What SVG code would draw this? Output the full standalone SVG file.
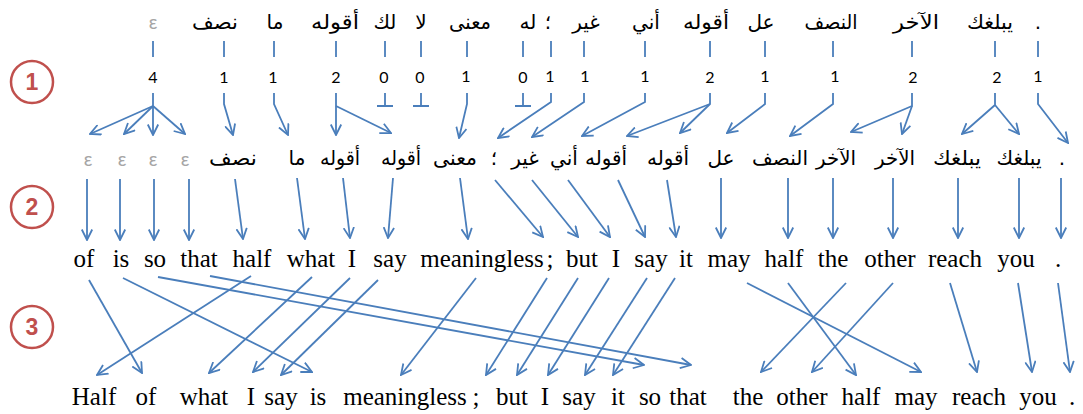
<svg xmlns="http://www.w3.org/2000/svg" width="1083" height="414" viewBox="0 0 1083 414">
<defs>
<marker id="ah" viewBox="0 0 12 12" refX="11" refY="6" markerWidth="12" markerHeight="12" orient="auto" markerUnits="userSpaceOnUse">
<path d="M0.5,0.8 L11,6 L0.5,11.2" fill="none" stroke="#4A7EBB" stroke-width="1.8" stroke-linejoin="miter"/>
</marker>
<style>
.a1{font-family:"DejaVu Sans",sans-serif;font-size:20px;fill:#000;text-anchor:middle}
.a2{font-family:"DejaVu Sans",sans-serif;font-size:20px;fill:#000;text-anchor:middle}
.en{font-family:"Liberation Serif","Times New Roman",serif;font-size:25px;fill:#000;text-anchor:middle}
.num{font-family:Lato,"Liberation Sans",sans-serif;font-size:16px;fill:#000;text-anchor:middle}
.eps{font-family:Lato,"DejaVu Sans",sans-serif;font-size:19px;fill:#A6A6A6;text-anchor:middle}
.ln{stroke:#4A7EBB;stroke-width:1.8;fill:none}
.ar{stroke:#4A7EBB;stroke-width:1.8;fill:none;marker-end:url(#ah)}
.circ{fill:none;stroke:#C0504D;stroke-width:2.5}
.cn{font-family:"Liberation Sans",sans-serif;font-weight:bold;font-size:23px;fill:#C0504D;text-anchor:middle}
</style>
</defs>
<rect width="1083" height="414" fill="#fff"/>

<g id="step-markers">
<g id="step1"><circle class="circ" cx="32" cy="82" r="21"/><text class="cn" x="32" y="90">1</text></g>
<g id="step2"><circle class="circ" cx="32" cy="207" r="21"/><text class="cn" x="32" y="215">2</text></g>
<g id="step3"><circle class="circ" cx="32" cy="327" r="21"/><text class="cn" x="32" y="335">3</text></g>
</g>

<g id="source-row">
<g id="s0"><text class="eps" x="153" y="29">ε</text></g>
<g id="s1"><text class="a1" x="215" y="29" textLength="46" lengthAdjust="spacingAndGlyphs">نصف</text></g>
<g id="s2"><text class="a1" x="275" y="29">ما</text></g>
<g id="s3"><text class="a1" x="335" y="29" textLength="48" lengthAdjust="spacingAndGlyphs">أقوله</text></g>
<g id="s4"><text class="a1" x="385" y="29">لك</text></g>
<g id="s5"><text class="a1" x="421" y="29">لا</text></g>
<g id="s6"><text class="a1" x="470" y="29" textLength="42" lengthAdjust="spacingAndGlyphs">معنى</text></g>
<g id="s7"><text class="a1" x="528" y="29">له</text></g>
<g id="s8"><text class="a1" x="548" y="29">؛</text></g>
<g id="s9"><text class="a1" x="586" y="29">غير</text></g>
<g id="s10"><text class="a1" x="646" y="29">أني</text></g>
<g id="s11"><text class="a1" x="706" y="29" textLength="46" lengthAdjust="spacingAndGlyphs">أقوله</text></g>
<g id="s12"><text class="a1" x="761" y="29">عل</text></g>
<g id="s13"><text class="a1" x="831" y="29" textLength="53" lengthAdjust="spacingAndGlyphs">النصف</text></g>
<g id="s14"><text class="a1" x="916" y="29" textLength="46" lengthAdjust="spacingAndGlyphs">الآخر</text></g>
<g id="s15"><text class="a1" x="990" y="29" textLength="46" lengthAdjust="spacingAndGlyphs">يبلغك</text></g>
<g id="s16"><text class="a1" x="1038" y="29">.</text></g>
</g>

<g id="fertility">
<text class="num" x="153" y="83">4</text>
<text class="num" x="224" y="83">1</text>
<text class="num" x="273" y="83">1</text>
<text class="num" x="336" y="83">2</text>
<text class="num" x="384" y="83">0</text>
<text class="num" x="420" y="83">0</text>
<text class="num" x="466" y="82">1</text>
<text class="num" x="523" y="83">0</text>
<text class="num" x="550" y="82">1</text>
<text class="num" x="585" y="82">1</text>
<text class="num" x="645" y="82">1</text>
<text class="num" x="710" y="83">2</text>
<text class="num" x="765" y="82">1</text>
<text class="num" x="835" y="82">1</text>
<text class="num" x="913" y="83">2</text>
<text class="num" x="997" y="83">2</text>
<text class="num" x="1038" y="82">1</text>
</g>

<g id="middle-row">
<g id="m0"><text class="eps" x="88" y="166">ε</text></g>
<g id="m1"><text class="eps" x="122" y="166">ε</text></g>
<g id="m2"><text class="eps" x="153" y="166">ε</text></g>
<g id="m3"><text class="eps" x="185" y="166">ε</text></g>
<g id="m4"><text class="a2" x="233" y="165" textLength="48" lengthAdjust="spacingAndGlyphs">نصف</text></g>
<g id="m5"><text class="a2" x="297" y="165">ما</text></g>
<g id="m6"><text class="a2" x="340" y="165" textLength="40" lengthAdjust="spacingAndGlyphs">أقوله</text></g>
<g id="m7"><text class="a2" x="401" y="165" textLength="40" lengthAdjust="spacingAndGlyphs">أقوله</text></g>
<g id="m8"><text class="a2" x="455" y="165" textLength="44" lengthAdjust="spacingAndGlyphs">معنى</text></g>
<g id="m9"><text class="a2" x="494" y="165">؛</text></g>
<g id="m10"><text class="a2" x="525" y="165">غير</text></g>
<g id="m11"><text class="a2" x="564" y="165">أني</text></g>
<g id="m12"><text class="a2" x="606" y="165" textLength="42" lengthAdjust="spacingAndGlyphs">أقوله</text></g>
<g id="m13"><text class="a2" x="668" y="165" textLength="42" lengthAdjust="spacingAndGlyphs">أقوله</text></g>
<g id="m14"><text class="a2" x="721" y="165">عل</text></g>
<g id="m15"><text class="a2" x="780" y="165" textLength="56" lengthAdjust="spacingAndGlyphs">النصف</text></g>
<g id="m16"><text class="a2" x="836" y="165" textLength="40" lengthAdjust="spacingAndGlyphs">الآخر</text></g>
<g id="m17"><text class="a2" x="895" y="165" textLength="40" lengthAdjust="spacingAndGlyphs">الآخر</text></g>
<g id="m18"><text class="a2" x="957" y="165" textLength="48" lengthAdjust="spacingAndGlyphs">يبلغك</text></g>
<g id="m19"><text class="a2" x="1019" y="165" textLength="45" lengthAdjust="spacingAndGlyphs">يبلغك</text></g>
<g id="m20"><text class="a2" x="1062" y="165">.</text></g>
</g>

<g id="english-row">
<g id="e0"><text class="en" x="84" y="267">of</text></g>
<g id="e1"><text class="en" x="121" y="267">is</text></g>
<g id="e2"><text class="en" x="155" y="267">so</text></g>
<g id="e3"><text class="en" x="199" y="267">that</text></g>
<g id="e4"><text class="en" x="252" y="267">half</text></g>
<g id="e5"><text class="en" x="311" y="267">what</text></g>
<g id="e6"><text class="en" x="352" y="267">I</text></g>
<g id="e7"><text class="en" x="390" y="267">say</text></g>
<g id="e8"><text class="en" x="482" y="267">meaningless</text></g>
<g id="e9"><text class="en" x="550" y="267">;</text></g>
<g id="e10"><text class="en" x="582" y="267">but</text></g>
<g id="e11"><text class="en" x="616" y="267">I</text></g>
<g id="e12"><text class="en" x="651" y="267">say</text></g>
<g id="e13"><text class="en" x="686" y="267">it</text></g>
<g id="e14"><text class="en" x="729" y="267">may</text></g>
<g id="e15"><text class="en" x="784" y="267">half</text></g>
<g id="e16"><text class="en" x="833" y="267">the</text></g>
<g id="e17"><text class="en" x="890" y="267">other</text></g>
<g id="e18"><text class="en" x="955" y="267">reach</text></g>
<g id="e19"><text class="en" x="1016" y="267">you</text></g>
<g id="e20"><text class="en" x="1058" y="267">.</text></g>
</g>

<g id="target-row">
<g id="t0"><text class="en" x="94" y="405">Half</text></g>
<g id="t1"><text class="en" x="146" y="405">of</text></g>
<g id="t2"><text class="en" x="204" y="405">what</text></g>
<g id="t3"><text class="en" x="251" y="405">I</text></g>
<g id="t4"><text class="en" x="281" y="405">say</text></g>
<g id="t5"><text class="en" x="318" y="405">is</text></g>
<g id="t6"><text class="en" x="405" y="405">meaningless</text></g>
<g id="t7"><text class="en" x="476" y="405">;</text></g>
<g id="t8"><text class="en" x="512" y="405">but</text></g>
<g id="t9"><text class="en" x="545" y="405">I</text></g>
<g id="t10"><text class="en" x="579" y="405">say</text></g>
<g id="t11"><text class="en" x="618" y="405">it</text></g>
<g id="t12"><text class="en" x="650" y="405">so</text></g>
<g id="t13"><text class="en" x="688" y="405">that</text></g>
<g id="t14"><text class="en" x="748" y="405">the</text></g>
<g id="t15"><text class="en" x="802" y="405">other</text></g>
<g id="t16"><text class="en" x="861" y="405">half</text></g>
<g id="t17"><text class="en" x="916" y="405">may</text></g>
<g id="t18"><text class="en" x="979" y="405">reach</text></g>
<g id="t19"><text class="en" x="1038" y="405">you</text></g>
<g id="t20"><text class="en" x="1072" y="405">.</text></g>
</g>

<g id="connectors">
<path class="ln" d="M153,41V57M224,41V57M274,41V57M336,41V57M385,41V57M421,41V57M467,41V57M523,41V57M551,41V57M584,41V57M645,41V57M710,41V57M765,41V57M833,41V57M912,41V57M995,41V57M1038,41V57"/>
<path class="ln" d="M385,93V106M377,106H393M421,93V106M413,106H429M523,93V106M515,106H531"/>
<path class="ar" d="M153,93V106L90,134"/>
<path class="ar" d="M153,106L124,134"/>
<path class="ar" d="M153,106V135"/>
<path class="ar" d="M153,106L185,134"/>
<path class="ar" d="M224,93V104L233,135"/>
<path class="ar" d="M274,93V104L288,135"/>
<path class="ar" d="M336,93V106V135"/>
<path class="ar" d="M336,106L391,133"/>
<path class="ar" d="M467,93V104L459,138"/>
<path class="ar" d="M551,93V102L498,138"/>
<path class="ar" d="M584,93V102L532,137"/>
<path class="ar" d="M645,93V102L582,136"/>
<path class="ar" d="M710,93V104L627,136"/>
<path class="ar" d="M710,104L680,133"/>
<path class="ar" d="M765,93V104L727,133"/>
<path class="ar" d="M833,93V104L790,136"/>
<path class="ar" d="M912,93V106L851,132"/>
<path class="ar" d="M912,106L902,134"/>
<path class="ar" d="M995,93V105L962,134"/>
<path class="ar" d="M995,105L1019,134"/>
<path class="ar" d="M1038,93V104L1068,143"/>
<path class="ar" d="M87,179L87,240"/>
<path class="ar" d="M120,179L120,240"/>
<path class="ar" d="M154,179L154,240"/>
<path class="ar" d="M189,179L189,240"/>
<path class="ar" d="M235,179L243,239"/>
<path class="ar" d="M297,178L305,239"/>
<path class="ar" d="M343,178L350,238"/>
<path class="ar" d="M393,178L388,238"/>
<path class="ar" d="M460,178L468,239"/>
<path class="ar" d="M495,180L543,237"/>
<path class="ar" d="M532,180L578,237"/>
<path class="ar" d="M568,180L610,237"/>
<path class="ar" d="M618,180L645,237"/>
<path class="ar" d="M667,180L676,237"/>
<path class="ar" d="M721,178L721,238"/>
<path class="ar" d="M788,178L788,238"/>
<path class="ar" d="M833,178L833,238"/>
<path class="ar" d="M893,178L893,238"/>
<path class="ar" d="M958,178L958,238"/>
<path class="ar" d="M1019,178L1019,238"/>
<path class="ar" d="M1061,178L1061,238"/>
<path class="ar" d="M89,280L142,373"/>
<path class="ar" d="M123,278L312,372"/>
<path class="ar" d="M158,277L644,365"/>
<path class="ar" d="M210,276L691,365"/>
<path class="ar" d="M251,276L97,375"/>
<path class="ar" d="M312,277L209,373"/>
<path class="ar" d="M350,278L253,372"/>
<path class="ar" d="M378,280L281,375"/>
<path class="ar" d="M476,278L401,375"/>
<path class="ar" d="M547,278L486,375"/>
<path class="ar" d="M578,278L517,375"/>
<path class="ar" d="M609,278L548,375"/>
<path class="ar" d="M647,278L585,375"/>
<path class="ar" d="M675,278L613,375"/>
<path class="ar" d="M747,283L921,372"/>
<path class="ar" d="M788,283L856,375"/>
<path class="ar" d="M846,283L761,372"/>
<path class="ar" d="M893,283L812,372"/>
<path class="ar" d="M950,283L977,372"/>
<path class="ar" d="M1018,283L1032,372"/>
<path class="ar" d="M1058,283L1070,372"/>
</g>
</svg>
